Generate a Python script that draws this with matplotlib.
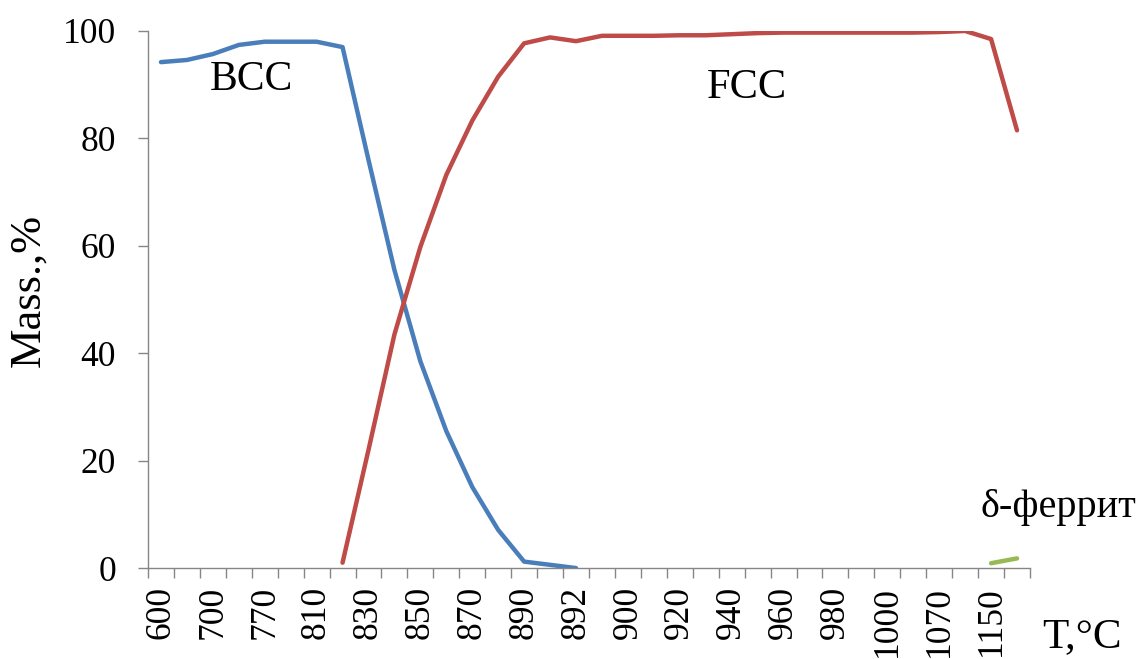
import numpy as np
import matplotlib.pyplot as plt

plt.rcParams['font.family'] = ['Liberation Serif', 'DejaVu Serif']

nan = np.nan

# подписи температур (подписана каждая вторая категория)
t_labels = ['600', '700', '770', '810', '830', '850', '870', '890', '892',
            '900', '920', '940', '960', '980', '1000', '1070', '1150']

# массовая доля фаз, %
bcc = [94.2, 94.6, 95.7, 97.4, 98.0, 98.0, 98.0, 97.0, 76.0, 55.5,
       38.5, 25.5, 15.1, 7.1, 1.2, 0.6, 0.0] + [nan] * 17
fcc = [nan] * 7 + [1.0, 22.0, 43.5, 59.8, 73.2, 83.3, 91.5, 97.7, 98.8,
                   98.1, 99.1, 99.1, 99.1, 99.2, 99.2, 99.4, 99.6, 99.7,
                   99.7, 99.7, 99.7, 99.7, 99.7, 99.8, 100.0, 98.5, 81.5]
delta = [nan] * 32 + [0.9, 1.8]

n = len(bcc)
x = np.arange(n)

fig = plt.figure(figsize=(11.41, 6.59), dpi=100)
ax = fig.add_axes([0.1297, 0.138, 0.773, 0.815])

ax.plot(x, bcc, color='#4a7ebb', lw=3.2, solid_capstyle='round')
ax.plot(x, fcc, color='#be4b48', lw=3.2, solid_capstyle='round')
ax.plot(x, delta, color='#98b954', lw=3.2, solid_capstyle='round')

ax.set_xlim(-0.5, n - 0.5)
ax.set_ylim(0, 100)

# засечки между категориями, подписи в центре категорий
ax.set_xticks(np.arange(n + 1) - 0.5)
ax.set_xticklabels([])
ax.set_xticks(x[::2], t_labels, minor=True)
ax.tick_params(axis='x', which='major', direction='out', length=7,
               color='#868686', width=1)
ax.tick_params(axis='x', which='minor', length=0, pad=13,
               labelsize=25.5, labelrotation=90)
for lab in ax.get_xticklabels(minor=True):
    lab.set_va('top')

ax.set_yticks([0, 20, 40, 60, 80, 100])
ax.tick_params(axis='y', direction='out', length=7, color='#868686',
               width=1, labelsize=25.5, pad=16)

for s in ['top', 'right']:
    ax.spines[s].set_visible(False)
for s in ['left', 'bottom']:
    ax.spines[s].set_color('#868686')
    ax.spines[s].set_linewidth(1)

fig.text(251 / 1141, 1 - 80 / 659, 'BCC', fontsize=30, ha='center', va='center')
fig.text(747 / 1141, 1 - 88 / 659, 'FCC', fontsize=30.5, ha='center', va='center')
fig.text(1058 / 1141, 1 - 507 / 659, 'δ-феррит', fontsize=29, ha='center', va='center')
fig.text(1082 / 1141, 1 - 637 / 659, 'T,°C', fontsize=31, ha='center', va='center')
fig.text(28 / 1141, 1 - 290 / 659, 'Mass.,%', fontsize=32, ha='center',
         va='center', rotation=90)

plt.savefig('out.png', dpi=100)
